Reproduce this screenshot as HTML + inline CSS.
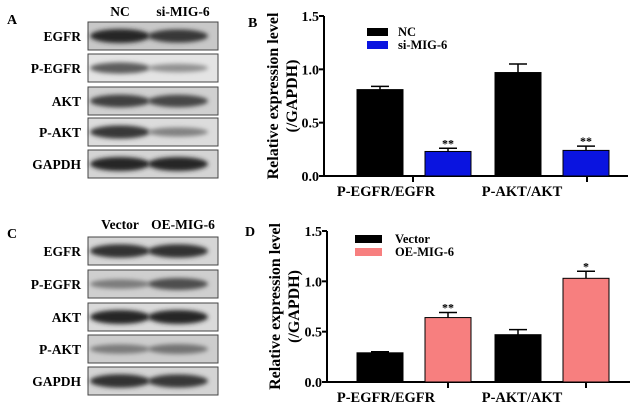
<!DOCTYPE html>
<html><head><meta charset="utf-8"><style>
body{margin:0;background:#fff;width:635px;height:409px;overflow:hidden;font-family:"Liberation Serif",serif;font-weight:bold}
svg text{font-family:"Liberation Serif",serif;font-weight:bold}
</style></head><body>
<svg id="fig" width="635" height="409" viewBox="0 0 635 409">
<defs>
<filter id="bl" x="-30%" y="-100%" width="160%" height="300%"><feGaussianBlur stdDeviation="2.2"/></filter>
</defs>
<g id="blots"></g>
<g id="chartB"></g>
<g id="chartD"></g>
</svg>
<script>
var NS='http://www.w3.org/2000/svg';
function mk(parent,tag,attrs,txt){var e=document.createElementNS(NS,tag);for(var k in attrs)e.setAttribute(k,attrs[k]);if(txt!=null)e.textContent=txt;parent.appendChild(e);return e;}

// ---- blots ----
var blotRowsA=['EGFR','P-EGFR','AKT','P-AKT','GAPDH'];
var blotTopsA=[22,54,87,118,150];
var blotTopsC=[237,270,303,335,367];
var bandA=[[1,0.9],[0.65,0.3],[0.85,0.8],[0.9,0.4],[1,1]];
var bandC=[[0.95,0.95],[0.45,0.75],[1,1],[0.45,0.5],[0.95,0.9]];
var bgA=['#c8c8c8','#e4e4e4','#d0d0d0','#dcdcdc','#d4d4d4'];
var bgC=['#d6d6d6','#cfcfcf','#dadada','#cdcdcd','#d4d4d4'];
var gB=document.getElementById('blots');
function panel(letter,ly,heads,hy,tops,bands,bgs,nm){
  var t=mk(gB,'text',{x:7,y:ly,'font-size':14});t.textContent=letter;
  
  
  heads.forEach(function(h,i){
    var e=mk(gB,'text',{x:i?183:120,y:hy,'font-size':13.5,'text-anchor':'middle'},h);
    
    
  });
  blotRowsA.forEach(function(r,i){
    var y=tops[i];
    var l=mk(gB,'text',{x:81,y:y+19,'font-size':13.5,'text-anchor':'end'},r);
    
    
    var bx=mk(gB,'rect',{x:88,y:y,width:130,height:28,fill:bgs[i],stroke:'#444','stroke-width':1});
    
    
    bands[i].forEach(function(v,j){
      var cx=j?178:120;
      var g=Math.round(40+(1-v)*150);
      var b=mk(gB,'ellipse',{cx:cx,cy:y+14,rx:30,ry:3+4*v,fill:'rgb('+g+','+g+','+g+')',filter:'url(#bl)'});
      
      
    });
  });
}
panel('A',24,['NC','si-MIG-6'],16,blotTopsA,bandA,bgA,'blot-a');
panel('C',238,['Vector','OE-MIG-6'],229,blotTopsC,bandC,bgC,'blot-c');

// ---- bar charts ----
var categories=['P-EGFR/EGFR','P-AKT/AKT'];
var yTicks=[0,0.5,1.0,1.5];
var yTickLabels=['0.0','0.5','1.0','1.5'];
var seriesNamesB=['NC','si-MIG-6'];
var valuesB_NC=[0.81,0.97];
var errB_NC=[0.03,0.08];
var valuesB_si=[0.23,0.24];
var errB_si=[0.03,0.04];
var starsB_si=['**','**'];
var seriesNamesD=['Vector','OE-MIG-6'];
var valuesD_V=[0.29,0.47];
var errD_V=[0.01,0.05];
var valuesD_OE=[0.64,1.03];
var errD_OE=[0.05,0.07];
var starsD_OE=['**','*'];

function chart(gid,o){
  var g=document.getElementById(gid);
  var y=function(v){return o.y0-(v/1.5)*(o.y0-o.y15);};
  var bw=46;
  var x=function(ci,si){return o.cx[ci]+(si?11:-57);};
  var L=mk(g,'text',{x:o.px,y:o.py,'font-size':14},o.letter);
  
  var ya=mk(g,'line',{x1:o.ax,y1:o.y15,x2:o.ax,y2:o.y0,stroke:'#000','stroke-width':2});
  
  var xa=mk(g,'line',{x1:o.ax,y1:o.y0,x2:o.xend,y2:o.y0,stroke:'#000','stroke-width':2});
  
  yTicks.forEach(function(t,i){
    var tk=mk(g,'line',{x1:o.ax-5,y1:y(t),x2:o.ax,y2:y(t),stroke:'#000','stroke-width':2});
    
    var tl=mk(g,'text',{x:o.ax-5,y:y(t)+5,'font-size':14,'text-anchor':'end'},yTickLabels[i]);
    
  });
  var yt=mk(g,'text',{transform:'translate('+o.ytx+','+((o.y0+o.y15)/2)+') rotate(-90)','font-size':16,'text-anchor':'middle'});
  
  mk(yt,'tspan',{x:0,dy:0},'Relative expression level');
  mk(yt,'tspan',{x:0,dy:19},'(/GAPDH)');
  categories.forEach(function(c,ci){
    var tk=mk(g,'line',{x1:o.tx[ci],y1:o.y0,x2:o.tx[ci],y2:o.y0+6,stroke:'#000','stroke-width':2});
    
    var cl=mk(g,'text',{x:o.lblx[ci],y:o.y0+20,'font-size':14.5,'text-anchor':'middle'},c);
    
    [0,1].forEach(function(si){
      var v=o.vals[si][ci],e=o.errs[si][ci],bx=x(ci,si);
      var eb=mk(g,'line',{x1:bx+bw/2,y1:y(v),x2:bx+bw/2,y2:y(v+e),stroke:'#000','stroke-width':1.5});
      
      var cap=mk(g,'line',{x1:bx+bw/2-9,y1:y(v+e),x2:bx+bw/2+9,y2:y(v+e),stroke:'#000','stroke-width':1.5});
      
      var r=mk(g,'rect',{x:bx,y:y(v),width:bw,height:o.y0-y(v),fill:o.cols[si],stroke:'#000','stroke-width':1});
      
      
      if(si===1){
        var st=mk(g,'text',{x:bx+bw/2,y:y(v+e)-1,'font-size':12,'text-anchor':'middle','font-weight':'normal'},o.stars[ci]);
        
      }
    });
  });
  o.names.forEach(function(n,si){
    var sw=mk(g,'rect',{x:o.lx,y:o.ly[si]-4,width:o.lw,height:8,fill:o.cols[si]});
    
    var lt=mk(g,'text',{x:o.ltx,y:o.ly[si]+4,'font-size':12.5},n);
    
  });
}
chart('chartB',{letter:'B',px:248,py:27,ax:324,y0:176,y15:16,xend:628,cx:[414,552],tx:[413,587],lblx:[386,522],ytx:278,
  vals:[valuesB_NC,valuesB_si],errs:[errB_NC,errB_si],stars:starsB_si,cols:['#000','#0a14e0'],names:seriesNamesB,
  lx:367,lw:21,ly:[32,45],ltx:398});
chart('chartD',{letter:'D',px:245,py:236,ax:327,y0:382,y15:231,xend:630,cx:[414,552],tx:[448,586],lblx:[386,522],ytx:280,
  vals:[valuesD_V,valuesD_OE],errs:[errD_V,errD_OE],stars:starsD_OE,cols:['#000','#f77f7f'],names:seriesNamesD,
  lx:355,lw:27,ly:[239,252],ltx:395});
</script>
</body></html>
